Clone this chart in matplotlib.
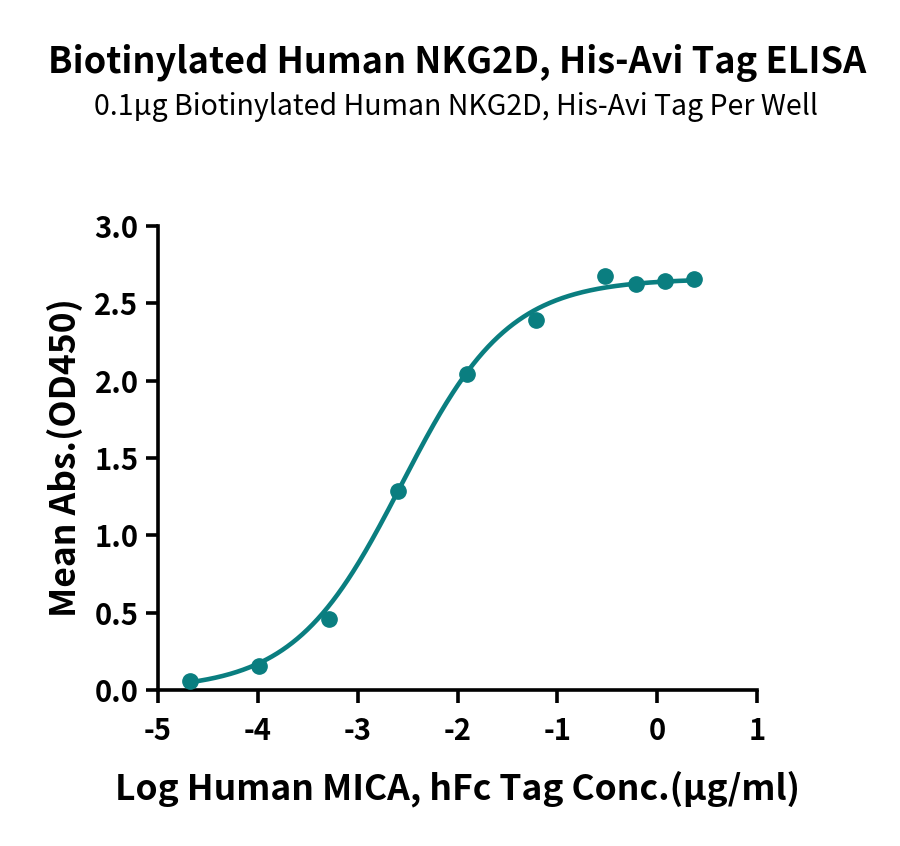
import numpy as np
import matplotlib
matplotlib.use("Agg")
import matplotlib.pyplot as plt

plt.rcParams['font.family'] = ['Noto Sans CJK SC', 'DejaVu Sans']

# Data (log10 concentration, mean OD450)
log_conc = [-4.68, -3.99, -3.29, -2.60, -1.90, -1.21, -0.52, -0.21, 0.08, 0.37]
mean_abs = [0.058, 0.155, 0.457, 1.286, 2.043, 2.392, 2.676, 2.626, 2.644, 2.655]

# 4PL fit parameters
fit_bottom = 0.0
fit_top = 2.66
fit_logec50 = -2.56
fit_hill = 0.81

x_ticks = [-5, -4, -3, -2, -1, 0, 1]
y_ticks = [0.0, 0.5, 1.0, 1.5, 2.0, 2.5, 3.0]
title = "Biotinylated Human NKG2D, His-Avi Tag ELISA"
subtitle = "0.1\u03bcg Biotinylated Human NKG2D, His-Avi Tag Per Well"
xlabel = "Log Human MICA, hFc Tag Conc.(\u03bcg/ml)"
ylabel = "Mean Abs.(OD450)"

color = '#0a7e80'

fig = plt.figure(figsize=(9, 8.46), dpi=100)
ax = fig.add_axes([158/900, 1-690/846, (757-158)/900, (690-226)/846])

xs = np.linspace(min(log_conc), max(log_conc), 400)
ys = fit_bottom + (fit_top - fit_bottom) / (1 + 10 ** (fit_hill * (fit_logec50 - xs)))
ax.plot(xs, ys, color=color, lw=3.3, solid_capstyle='round', zorder=2)
ax.plot(log_conc, mean_abs, 'o', color=color, ms=11, zorder=3)

ax.set_xlim(-5, 1)
ax.set_ylim(0, 3)
ax.set_xticks(x_ticks)
ax.set_yticks(y_ticks)
ax.set_xticklabels([str(t) for t in x_ticks])
ax.set_yticklabels([f"{t:.1f}" for t in y_ticks])
for s in ['top', 'right']:
    ax.spines[s].set_visible(False)
for s in ['left', 'bottom']:
    ax.spines[s].set_linewidth(2.6)
ax.tick_params(width=2.6, length=9, labelsize=21, pad=5)
ax.tick_params(axis='x', pad=10)
for lab in ax.get_xticklabels() + ax.get_yticklabels():
    lab.set_fontweight('bold')
ax.set_xlabel(xlabel, fontsize=25.5, fontweight='bold', labelpad=17)
ax.set_ylabel(ylabel, fontsize=25.5, fontweight='bold', labelpad=8)

fig.text(0.508, 1-63/846, title, ha='center', va='center', fontsize=26, fontweight='bold')
fig.text(0.507, 1-107/846, subtitle, ha='center', va='center', fontsize=20.5, fontweight='light')

fig.savefig('out.png', dpi=100)
